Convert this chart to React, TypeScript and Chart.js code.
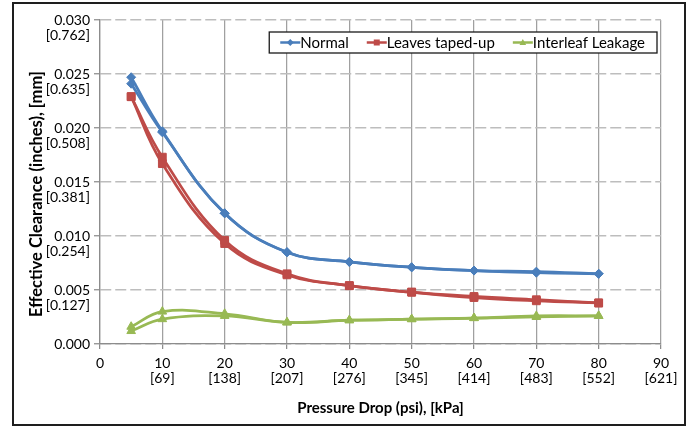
import React, { useEffect, useRef } from "react";
import { Chart, registerables } from "chart.js";

Chart.register(...registerables);

// ---- data ----
const pressurePsi = [5, 10, 20, 30, 40, 50, 60, 70, 80];

const normalRunA = [0.0247, 0.0197, 0.0121, 0.0085, 0.0076, 0.0071, 0.0068, 0.0067, 0.0065];
const normalRunB = [0.0241, 0.0196, 0.0121, 0.0085, 0.0076, 0.0071, 0.0068, 0.0066, 0.0065];

const tapedRunA = [0.0229, 0.0173, 0.0096, 0.0065, 0.0054, 0.0048, 0.0044, 0.0041, 0.0038];
const tapedRunB = [0.0229, 0.0167, 0.0093, 0.0064, 0.0054, 0.0048, 0.0043, 0.0040, 0.0038];

const leakRunA = [0.0016, 0.0030, 0.0028, 0.0020, 0.0022, 0.0023, 0.0024, 0.0026, 0.0026];
const leakRunB = [0.0012, 0.0023, 0.0026, 0.0020, 0.0022, 0.0023, 0.0024, 0.0025, 0.0026];

const seriesNames = ["Normal", "Leaves taped-up", "Interleaf Leakage"];

const yTickInches = ["0.000", "0.005", "0.010", "0.015", "0.020", "0.025", "0.030"];
const yTickMm = ["", "[0.127]", "[0.254]", "[0.381]", "[0.508]", "[0.635]", "[0.762]"];
const xTickPsi = ["0", "10", "20", "30", "40", "50", "60", "70", "80", "90"];
const xTickKpa = ["", "[69]", "[138]", "[207]", "[276]", "[345]", "[414]", "[483]", "[552]", "[621]"];

const yTitle = "Effective Clearance (inches), [mm]";
const xTitle = "Pressure Drop (psi), [kPa]";

// ---- styles ----
const BLUE = "#4A7EBB";
const RED = "#BE4B48";
const GREEN = "#98B954";
const FONT = "Lato";

function pts(vals: number[]) {
  return pressurePsi.map((p, i) => ({ x: p, y: vals[i] }));
}

function drawMarker(ctx: CanvasRenderingContext2D, style: string, x: number, y: number, r: number) {
  ctx.beginPath();
  if (style === "rectRot") {
    ctx.moveTo(x, y - r);
    ctx.lineTo(x + r, y);
    ctx.lineTo(x, y + r);
    ctx.lineTo(x - r, y);
  } else if (style === "rect") {
    ctx.rect(x - r, y - r, 2 * r, 2 * r);
  } else {
    ctx.moveTo(x, y - r);
    ctx.lineTo(x + r * 0.95, y + r * 0.7);
    ctx.lineTo(x - r * 0.95, y + r * 0.7);
  }
  ctx.closePath();
  ctx.fill();
}

const boxLegend = {
  id: "boxLegend",
  afterDraw(chart: any) {
    const { ctx, chartArea } = chart;
    const items = chart.data.datasets.filter((d: any) => d.showInLegend);
    ctx.save();
    ctx.font = `15px ${FONT}`;
    const sampleW = 20;
    const gap = 18;
    const padL = 11;
    const padR = 12;
    const widths = items.map((d: any) => ctx.measureText(d.label).width);
    const total =
      padL + padR + widths.reduce((a: number, w: number) => a + sampleW + w, 0) + gap * (items.length - 1);
    const right = chartArea.right - 4;
    const left = right - total;
    const top = chartArea.top + 12;
    const h = 21;
    ctx.fillStyle = "#ffffff";
    ctx.fillRect(left, top, total, h);
    ctx.strokeStyle = "#1a1a1a";
    ctx.lineWidth = 1.3;
    ctx.strokeRect(left, top, total, h);
    let x = left + padL;
    const cy = top + h / 2;
    items.forEach((d: any, i: number) => {
      ctx.strokeStyle = d.borderColor;
      ctx.lineWidth = 2.5;
      ctx.beginPath();
      ctx.moveTo(x, cy);
      ctx.lineTo(x + sampleW, cy);
      ctx.stroke();
      ctx.fillStyle = d.borderColor;
      drawMarker(ctx, d.pointStyle, x + sampleW / 2, cy, d.pointStyle === "rect" ? 3 : 3.5);
      ctx.fillStyle = "#000000";
      ctx.textBaseline = "middle";
      ctx.textAlign = "left";
      ctx.fillText(d.label, x + sampleW, cy + 1);
      x += sampleW + widths[i] + gap;
    });
    ctx.restore();
  },
};

function makeSet(label: string, vals: number[], color: string, style: string, radius: number, inLegend: boolean) {
  return {
    label,
    data: pts(vals),
    borderColor: color,
    backgroundColor: color,
    pointBackgroundColor: color,
    pointBorderColor: color,
    pointStyle: style,
    pointRadius: radius,
    pointBorderWidth: 1,
    borderWidth: 2.75,
    tension: 0.4,
    fill: false,
    showInLegend: inLegend,
  };
}

export default function App() {
  const canvasRef = useRef<HTMLCanvasElement | null>(null);

  useEffect(() => {
    document.body.style.margin = "0";
    let chart: Chart | null = null;
    let cancelled = false;
    const build = () => {
      if (cancelled || !canvasRef.current) return;
      chart = new Chart(canvasRef.current, {
        type: "line",
        data: {
          datasets: [
            makeSet(seriesNames[0], normalRunA, BLUE, "rectRot", 4.5, true),
            makeSet(seriesNames[0], normalRunB, BLUE, "rectRot", 4.5, false),
            makeSet(seriesNames[1], tapedRunA, RED, "rect", 5.5, true),
            makeSet(seriesNames[1], tapedRunB, RED, "rect", 5.5, false),
            makeSet(seriesNames[2], leakRunA, GREEN, "triangle", 5, true),
            makeSet(seriesNames[2], leakRunB, GREEN, "triangle", 5, false),
          ] as any,
        },
        options: {
          animation: false,
          responsive: false,
          devicePixelRatio: 1,
          layout: { padding: { left: 0, top: 20, right: 30, bottom: 0 } },
          plugins: {
            legend: { display: false },
            tooltip: { enabled: false },
          },
          scales: {
            x: {
              type: "linear",
              min: 0,
              max: 90,
              afterFit: (s: any) => {
                s.height = 83;
              },
              ticks: {
                stepSize: 10,
                padding: 7,
                color: "#000",
                font: { family: FONT, size: 14, lineHeight: 1.07 },
                maxRotation: 0,
                autoSkip: false,
                callback: (v: any) => {
                  const i = Math.round(Number(v) / 10);
                  return xTickKpa[i] ? [xTickPsi[i], xTickKpa[i]] : xTickPsi[i];
                },
              },
              grid: {
                color: "#a0a0a0",
                lineWidth: 1.25,
                tickLength: 5,
                tickColor: "#8c8c8c",
              },
              border: { display: true, color: "#8c8c8c", width: 1.25 },
              title: {
                display: true,
                text: xTitle,
                color: "#000",
                font: { family: FONT, size: 15, weight: "bold", lineHeight: 1.2 },
                padding: { top: 0, bottom: 10 },
              },
            },
            y: {
              type: "linear",
              min: 0,
              max: 0.03,
              afterFit: (s: any) => {
                s.width = 100;
              },
              ticks: {
                stepSize: 0.005,
                padding: 4,
                labelOffset: 7.5,
                color: "#000",
                font: { family: FONT, size: 14, lineHeight: 1.07 },
                autoSkip: false,
                callback: (v: any) => {
                  const i = Math.round(Number(v) / 0.005);
                  return [yTickInches[i], yTickMm[i]];
                },
              },
              grid: {
                color: "#bdbdbd",
                lineWidth: 1.5,
                tickLength: 6,
                tickColor: "#8c8c8c",
                tickBorderDash: [],
                tickWidth: 1.25,
              },
              border: { display: true, color: "#8c8c8c", width: 1.25, dash: [11, 4] },
              title: {
                display: true,
                text: yTitle + "      ",
                color: "#000",
                font: { family: FONT, size: 16.5, weight: "bold", lineHeight: 1.2 },
                padding: { top: 27, bottom: 0 },
              },
            },
          },
        } as any,
        plugins: [boxLegend],
      });
    };
    const p = (document as any).fonts
      ? Promise.all([
          (document as any).fonts.load(`14px ${FONT}`),
          (document as any).fonts.load(`bold 14px ${FONT}`),
        ]).catch(() => null)
      : Promise.resolve();
    p.then(build);
    return () => {
      cancelled = true;
      if (chart) chart.destroy();
    };
  }, []);

  return (
    <div style={{ position: "fixed", left: 0, top: 0, width: 691, height: 427, background: "#fff" }}>
      <canvas ref={canvasRef} width={691} height={427} style={{ display: "block", width: 691, height: 427 }} />
      <div
        style={{
          position: "absolute",
          left: 12,
          top: 2,
          width: 674,
          height: 424,
          border: "2px solid #1e1e1e",
          boxSizing: "border-box",
          pointerEvents: "none",
        }}
      />
    </div>
  );
}
